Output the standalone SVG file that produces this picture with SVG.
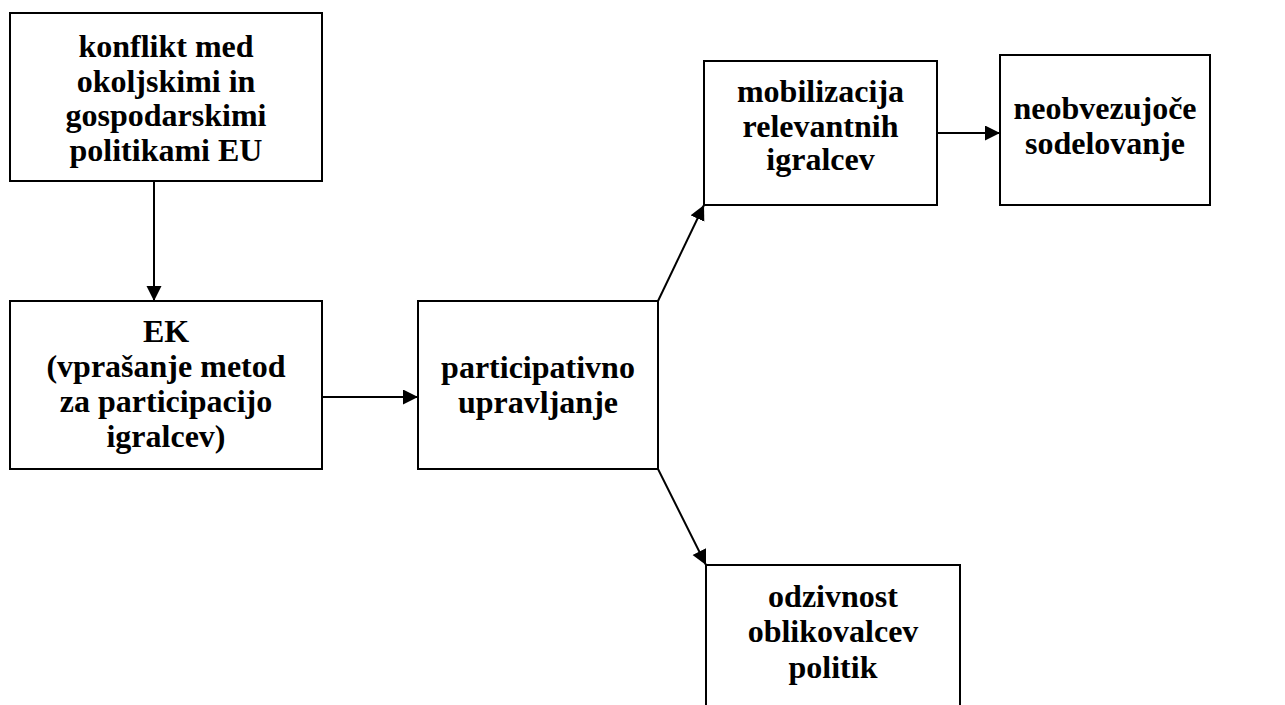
<svg xmlns="http://www.w3.org/2000/svg" width="1285" height="705" viewBox="0 0 1285 705">
<style>
.box{fill:#fff;stroke:#000;stroke-width:2}
.t{font-family:"Liberation Serif","Times New Roman",serif;font-weight:bold;font-size:32px;text-anchor:middle;fill:#000}
.c{stroke:#000;stroke-width:2;fill:none;marker-end:url(#ah)}
</style>
<defs>
<marker id="ah" markerWidth="17" markerHeight="17" refX="15" refY="7.5" orient="auto" markerUnits="userSpaceOnUse">
<path d="M0,0 L15,7.5 L0,15 Z" fill="#000"/>
</marker>
</defs>
<g id="connectors">
<line class="c" x1="154" y1="181" x2="154" y2="301"/>
<line class="c" x1="322" y1="397" x2="418" y2="397"/>
<line class="c" x1="658" y1="301" x2="704" y2="205"/>
<line class="c" x1="658" y1="469" x2="706" y2="565"/>
<line class="c" x1="937" y1="133" x2="1000" y2="133"/>
</g>
<g id="n1">
<rect class="box" x="10" y="13" width="312" height="168"/>
<text class="t" x="166" y="57">konflikt med</text>
<text class="t" x="166" y="91.5">okoljskimi in</text>
<text class="t" x="166" y="126">gospodarskimi</text>
<text class="t" x="166" y="160.5">politikami EU</text>
</g>
<g id="n2">
<rect class="box" x="10" y="301" width="312" height="168"/>
<text class="t" x="166" y="342">EK</text>
<text class="t" x="166" y="377">(vprašanje metod</text>
<text class="t" x="166" y="412">za participacijo</text>
<text class="t" x="166" y="447">igralcev)</text>
</g>
<g id="n3">
<rect class="box" x="418" y="301" width="240" height="168"/>
<text class="t" x="538" y="378">participativno</text>
<text class="t" x="538" y="413">upravljanje</text>
</g>
<g id="n4">
<rect class="box" x="704" y="61" width="233" height="144"/>
<text class="t" x="820.5" y="102">mobilizacija</text>
<text class="t" x="820.5" y="137">relevantnih</text>
<text class="t" x="820.5" y="170">igralcev</text>
</g>
<g id="n5">
<rect class="box" x="1000" y="55" width="210" height="150"/>
<text class="t" x="1105" y="119">neobvezujoče</text>
<text class="t" x="1105" y="154">sodelovanje</text>
</g>
<g id="n6">
<rect class="box" x="706" y="565" width="254" height="160"/>
<text class="t" x="833" y="607">odzivnost</text>
<text class="t" x="833" y="642">oblikovalcev</text>
<text class="t" x="833" y="678">politik</text>
</g>
</svg>
